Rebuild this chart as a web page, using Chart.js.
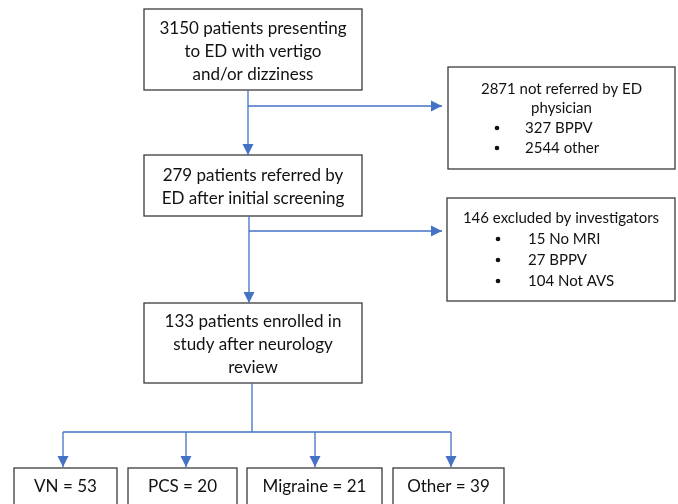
<!DOCTYPE html>
<html>
<head>
<meta charset="utf-8">
<script src="https://cdn.jsdelivr.net/npm/chart.js@4.4.1/dist/chart.umd.min.js"></script>
<style>
  body { margin: 0; background: #fff; }
  #flowCanvas { display: block; }
</style>
</head>
<body>
<canvas id="flowCanvas" width="678" height="504"></canvas>
<script>
// patient counts
const screened = 3150;
const notReferred = 2871;
const notReferredLabels = ['BPPV', 'other'];
const notReferredCounts = [327, 2544];
const referred = 279;
const excluded = 146;
const excludedLabels = ['No MRI', 'BPPV', 'Not AVS'];
const excludedCounts = [15, 27, 104];
const enrolled = 133;
const diagnosisLabels = ['VN', 'PCS', 'Migraine', 'Other'];
const diagnosisCounts = [53, 20, 21, 39];

// box texts
const boxTexts = {
    screen: [screened + ' patients presenting', 'to ED with vertigo', 'and/or dizziness'],
    notRef: [notReferred + ' not referred by ED', 'physician'],
    referred: [referred + ' patients referred by', 'ED after initial screening'],
    excluded: [excluded + ' excluded by investigators'],
    enrolled: [enrolled + ' patients enrolled in', 'study after neurology', 'review']
};
const notRefBullets = notReferredLabels.map((l, i) => notReferredCounts[i] + ' ' + l);
const excludedBullets = excludedLabels.map((l, i) => excludedCounts[i] + ' ' + l);
const diagnosisTexts = diagnosisLabels.map((l, i) => l + ' = ' + diagnosisCounts[i]);

// layout (chart units = page pixels)
const mainFont = '17px Lato';
const sideFont = '15px Lato';
const layout = {
    screen:   { x0: 144, x1: 362, y0: 9,   y1: 90,  lines: [29, 52, 75] },
    notRef:   { x0: 448, x1: 675, y0: 67,  y1: 169, lines: [89, 108], bullets: [128, 148] },
    referred: { x0: 144, x1: 362, y0: 155, y1: 216, lines: [176, 199] },
    excluded: { x0: 447, x1: 675, y0: 198, y1: 301, lines: [218], bullets: [239, 260, 281] },
    enrolled: { x0: 144, x1: 362, y0: 303, y1: 383, lines: [322, 345, 368] }
};
const diagBoxes = [[14, 117], [128, 237], [247, 382], [393, 504]];
const diagY = [468, 512, 487];

const connectors = [
    { pts: [[248, 90], [248, 155]], arrow: true },
    { pts: [[248, 106], [442, 106]], arrow: true },
    { pts: [[249, 216], [249, 303]], arrow: true },
    { pts: [[249, 231], [442, 231]], arrow: true },
    { pts: [[252, 383], [252, 432]], arrow: false },
    { pts: [[63, 432], [451, 432]], arrow: false },
    { pts: [[63, 432], [63, 467]], arrow: true },
    { pts: [[186, 432], [186, 467]], arrow: true },
    { pts: [[315, 432], [315, 467]], arrow: true },
    { pts: [[451, 432], [451, 467]], arrow: true }
];

const lineColor = '#4472C4';

const datasets = connectors.map(c => ({
    data: c.pts.map(p => ({ x: p[0], y: p[1] })),
    showLine: true,
    borderColor: lineColor,
    borderWidth: 1.3,
    pointRadius: 0,
    arrow: c.arrow
}));

const flowPlugin = {
    id: 'flowBoxes',
    beforeDatasetsDraw(chart) {
        const ctx = chart.ctx;
        const xs = chart.scales.x, ys = chart.scales.y;
        const px = v => xs.getPixelForValue(v);
        const py = v => ys.getPixelForValue(v);

        function box(x0, x1, y0, y1) {
            ctx.fillStyle = '#fff';
            ctx.strokeStyle = '#3a3a3a';
            ctx.lineWidth = 1.3;
            ctx.fillRect(px(x0), py(y0), px(x1) - px(x0), py(y1) - py(y0));
            ctx.strokeRect(px(x0), py(y0), px(x1) - px(x0), py(y1) - py(y0));
        }

        ctx.save();
        ctx.textBaseline = 'middle';
        for (const key in layout) {
            const b = layout[key];
            box(b.x0, b.x1, b.y0, b.y1);
            const isSide = !!b.bullets;
            ctx.font = isSide ? sideFont : mainFont;
            ctx.fillStyle = '#111';
            ctx.textAlign = 'center';
            const cx = (b.x0 + b.x1) / 2;
            boxTexts[key].forEach((t, i) => ctx.fillText(t, px(cx), py(b.lines[i])));
            if (b.bullets) {
                const items = key === 'notRef' ? notRefBullets : excludedBullets;
                const bx = key === 'notRef' ? 497 : 498;
                const tx = key === 'notRef' ? 525 : 528;
                ctx.textAlign = 'left';
                items.forEach((t, i) => {
                    ctx.beginPath();
                    ctx.arc(px(bx), py(b.bullets[i]), 2.3, 0, Math.PI * 2);
                    ctx.fill();
                    ctx.fillText(t, px(tx), py(b.bullets[i]));
                });
            }
        }

        ctx.font = mainFont;
        ctx.textAlign = 'center';
        diagBoxes.forEach((d, i) => {
            box(d[0], d[1], diagY[0], diagY[1]);
            ctx.fillStyle = '#111';
            ctx.fillText(diagnosisTexts[i], px((d[0] + d[1]) / 2), py(diagY[2]));
        });
        ctx.restore();
    },
    afterDatasetsDraw(chart) {
        const ctx = chart.ctx;
        chart.data.datasets.forEach((ds, i) => {
            if (!ds.arrow) return;
            const pts = chart.getDatasetMeta(i).data;
            const a = pts[pts.length - 2], b = pts[pts.length - 1];
            const ang = Math.atan2(b.y - a.y, b.x - a.x);
            const len = 11, half = 5.5;
            ctx.save();
            ctx.translate(b.x, b.y);
            ctx.rotate(ang);
            ctx.beginPath();
            ctx.moveTo(0, 0);
            ctx.lineTo(-len, -half);
            ctx.lineTo(-len, half);
            ctx.closePath();
            ctx.fillStyle = lineColor;
            ctx.fill();
            ctx.restore();
        });
    }
};

new Chart(document.getElementById('flowCanvas'), {
    type: 'scatter',
    data: { datasets: datasets },
    options: {
        responsive: false,
        animation: false,
        devicePixelRatio: 1,
        layout: { padding: 0 },
        plugins: { legend: { display: false }, tooltip: { enabled: false } },
        scales: {
            x: { type: 'linear', min: 0, max: 678, display: false },
            y: { type: 'linear', min: 0, max: 504, reverse: true, display: false }
        }
    },
    plugins: [flowPlugin]
});
</script>
</body>
</html>
